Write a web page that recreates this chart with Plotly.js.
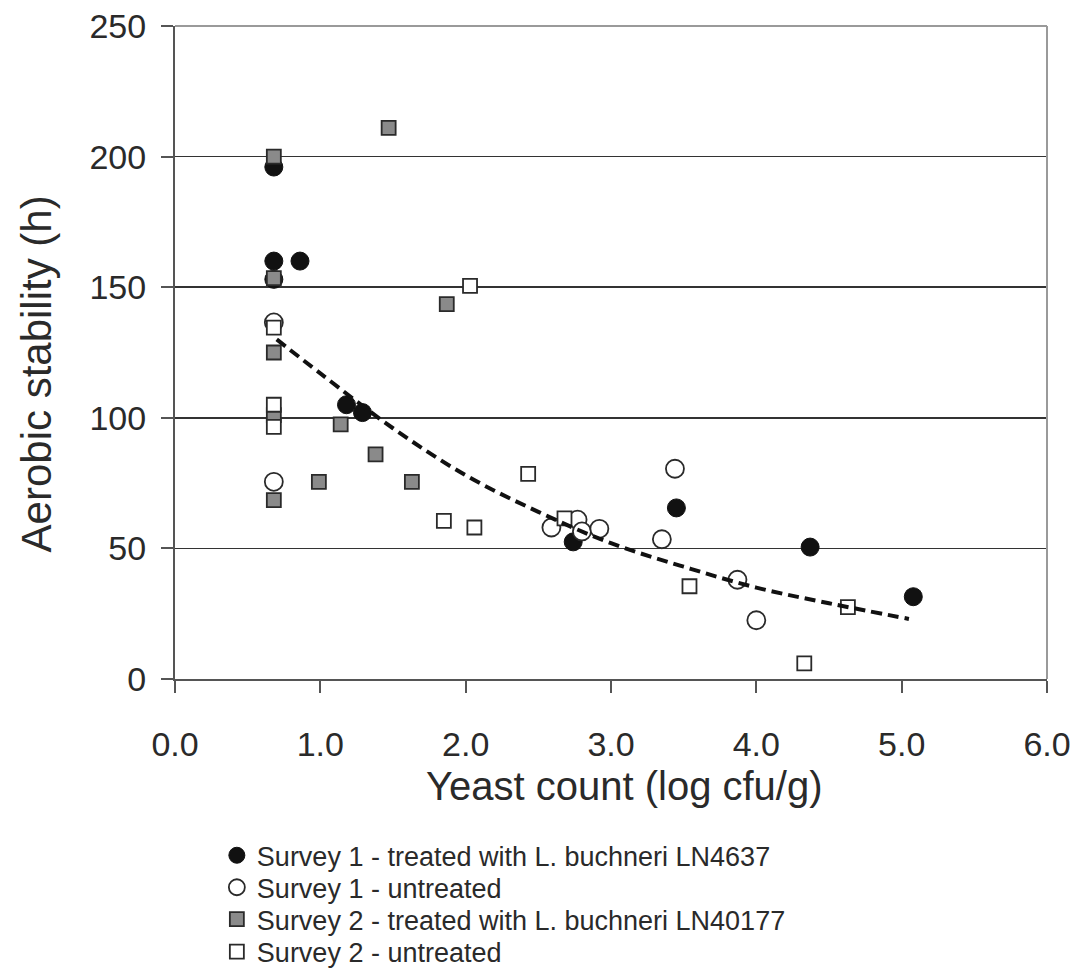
<!DOCTYPE html>
<html>
<head>
<meta charset="utf-8">
<script src="https://cdn.plot.ly/plotly-3.0.1.min.js"></script>
<style>html,body{margin:0;padding:0;background:#fff;}#chart{width:1073px;height:977px;}</style>
</head>
<body>
<div id="chart"></div>
<script>
// Survey 1 - treated with L. buchneri LN4637
const s1TreatedX = [0.68, 0.68, 0.86, 0.68, 1.18, 1.29, 2.74, 3.45, 4.37, 5.08];
const s1TreatedY = [196, 160, 160, 153, 105, 102, 52.5, 65.5, 50.5, 31.5];
// Survey 1 - untreated
const s1UntreatedX = [0.68, 0.68, 2.59, 2.77, 2.80, 2.92, 3.44, 3.35, 3.87, 4.00];
const s1UntreatedY = [136.5, 75.5, 58, 61, 56.5, 57.5, 80.5, 53.5, 38, 22.5];
// Survey 2 - treated with L. buchneri LN40177
const s2TreatedX = [0.68, 1.47, 0.68, 0.68, 0.68, 0.68, 0.99, 1.14, 1.38, 1.63, 1.87];
const s2TreatedY = [200, 211, 153.5, 125, 101, 68.5, 75.5, 97.5, 86, 75.5, 143.5];
// Survey 2 - untreated
const s2UntreatedX = [0.68, 0.68, 0.68, 2.03, 1.85, 2.06, 2.43, 2.68, 3.54, 4.33, 4.63];
const s2UntreatedY = [134.5, 105, 96.5, 150.5, 60.5, 58, 78.5, 61.5, 35.5, 6, 27.5];
// Trend line
const trendX = [0.70, 1.00, 1.50, 2.00, 2.50, 3.00, 3.50, 4.00, 4.50, 5.05];
const trendY = [130, 117, 96, 78, 64, 52, 43, 35, 29, 23];

const seriesNames = [
  'Survey 1 - treated with L. buchneri LN4637',
  'Survey 1 - untreated',
  'Survey 2 - treated with L. buchneri LN40177',
  'Survey 2 - untreated'
];
const xTitle = 'Yeast count (log cfu/g)';
const yTitle = 'Aerobic stability (h)';

const xTicks = [0, 1, 2, 3, 4, 5, 6];
const xTickText = ["0.0", "1.0", "2.0", "3.0", "4.0", "5.0", "6.0"];
const yTicks = [0, 50, 100, 150, 200, 250];

const edge = '#2a2a2a';
const txt = '#2a2a2a';
const traces = [
  {x: s1TreatedX, y: s1TreatedY, type: 'scatter', mode: 'markers',
   name: seriesNames[0], legend: 'legend',
   marker: {symbol: 'circle', size: 18, color: '#111', line: {color: '#111', width: 1}}},
  {x: s1UntreatedX, y: s1UntreatedY, type: 'scatter', mode: 'markers',
   name: seriesNames[1], legend: 'legend2',
   marker: {symbol: 'circle', size: 18, color: '#fff', line: {color: edge, width: 1.8}}},
  {x: s2TreatedX, y: s2TreatedY, type: 'scatter', mode: 'markers',
   name: seriesNames[2], legend: 'legend3',
   marker: {symbol: 'square', size: 14, color: '#8a8a8a', line: {color: edge, width: 1.8}}},
  {x: s2UntreatedX, y: s2UntreatedY, type: 'scatter', mode: 'markers',
   name: seriesNames[3], legend: 'legend4',
   marker: {symbol: 'square', size: 14, color: '#fff', line: {color: edge, width: 1.8}}},
  {x: trendX, y: trendY, type: 'scatter', mode: 'lines', showlegend: false,
   line: {color: '#111', width: 4, dash: '11px,6px', shape: 'spline'}}
];

function leg(yc, anchor) {
  return {
    x: 0.048, y: yc, xanchor: 'left', yanchor: anchor || 'middle',
    orientation: 'v', bgcolor: 'rgba(0,0,0,0)', borderwidth: 0,
    font: {size: 27, color: txt}, itemwidth: 30
  };
}

const layout = {
  width: 1073, height: 977,
  margin: {l: 175, r: 26, t: 26, b: 298, pad: 0, autoexpand: false},
  paper_bgcolor: '#fff', plot_bgcolor: '#fff',
  font: {family: '"Liberation Sans", Arial, sans-serif', color: txt},
  showlegend: true,
  xaxis: {
    range: [0, 6], tickvals: xTicks, ticktext: xTickText,
    showgrid: false, zeroline: false,
    showline: true, linecolor: '#555', linewidth: 2, mirror: false,
    ticks: 'outside', ticklen: 12, tickwidth: 2, tickcolor: '#555',
    ticklabelstandoff: 22,
    tickfont: {size: 34, color: txt}
  },
  yaxis: {
    range: [0, 250], tickvals: yTicks,
    showgrid: true, gridcolor: '#333', gridwidth: 1.6, zeroline: false,
    showline: true, linecolor: '#555', linewidth: 2,
    ticks: 'outside', ticklen: 12, tickwidth: 2, tickcolor: '#555',
    ticklabelstandoff: 8,
    tickfont: {size: 34, color: txt}
  },
  annotations: [
    {text: xTitle, xref: 'paper', yref: 'paper', x: 0.516, y: -0.1636,
     xanchor: 'center', yanchor: 'middle', showarrow: false,
     font: {size: 40, color: txt}},
    {text: yTitle, xref: 'paper', yref: 'paper', x: -0.1594, y: 0.4664,
     xanchor: 'center', yanchor: 'middle', showarrow: false, textangle: -90,
     font: {size: 42, color: txt}}
  ],
  shapes: [
    {type: 'line', xref: 'paper', yref: 'paper', x0: 0, x1: 1, y0: 1, y1: 1, line: {color: '#9a9a9a', width: 2}},
    {type: 'line', xref: 'paper', yref: 'paper', x0: 1, x1: 1, y0: 0, y1: 1, line: {color: '#9a9a9a', width: 2}}
  ],
  legend: leg(-0.2706),
  legend2: leg(-0.3196),
  legend3: leg(-0.3685),
  legend4: leg(-0.4557, 'bottom')
};

Plotly.newPlot('chart', traces, layout, {displayModeBar: false, staticPlot: true});
</script>
</body>
</html>
